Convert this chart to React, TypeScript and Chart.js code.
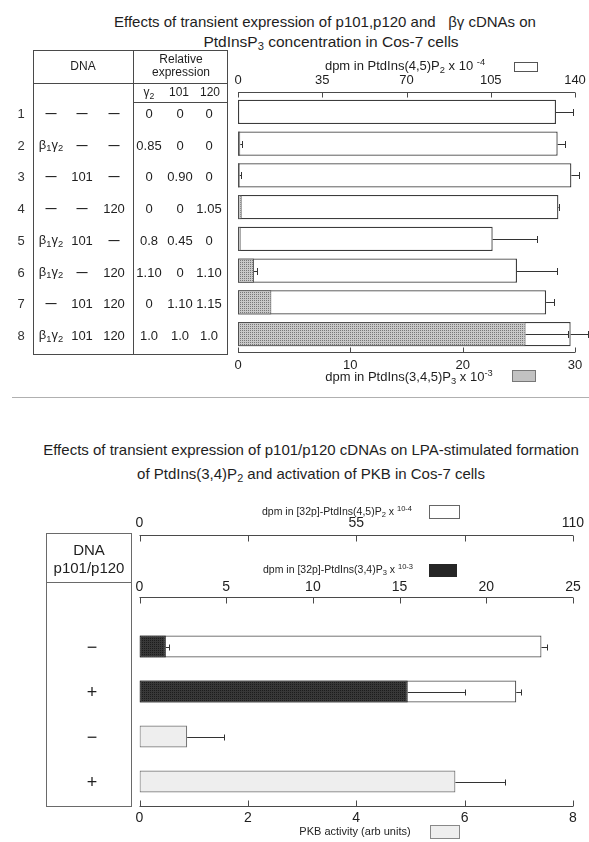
import React, { useEffect, useRef } from 'react';
import { Chart, registerables } from 'chart.js';

Chart.register(...registerables);

const FONT = '"Liberation Sans", Arial, Helvetica, sans-serif';
const INK = '#1e1e1e';

// ---------- Top panel data ----------
const rowNumbers = ['1', '2', '3', '4', '5', '6', '7', '8'];
const dnaBetaGamma = ['—', 'β1γ2', '—', '—', 'β1γ2', 'β1γ2', '—', 'β1γ2'];
const dnaP101 = ['—', '—', '101', '—', '101', '—', '101', '101'];
const dnaP120 = ['—', '—', '—', '120', '—', '120', '120', '120'];
const relGamma2 = ['0', '0.85', '0', '0', '0.8', '1.10', '0', '1.0'];
const rel101 = ['0', '0', '0.90', '0', '0.45', '0', '1.10', '1.0'];
const rel120 = ['0', '0', '0', '1.05', '0', '1.10', '1.15', '1.0'];

const pip2Values = [132.1, 132.8, 138.5, 133.1, 105.8, 115.9, 128.0, 138.2];
const pip2Errors = [6.9, 3.0, 3.1, 0.4, 18.5, 16.8, 3.3, 7.0];
const pip3Values = [0, 0.2, 0.15, 0.33, 0.24, 1.42, 2.97, 25.6];
const pip3Errors = [0, 0.12, 0.1, 0, 0, 0.24, 0, 3.8];

const pip2TickValues = [0, 35, 70, 105, 140];
const pip2TickLabels = ['0', '35', '70', '105', '140'];
const pip3TickValues = [0, 10, 20, 30];
const pip3TickLabels = ['0', '10', '20', '30'];

// ---------- Bottom panel data ----------
const dnaRows = ['−', '+', '−', '+'];
const lpaPip2Values = [102, 95.6, null, null];
const lpaPip2Errors = [1.3, 1.2, 0, 0];
const lpaPip34Values = [1.52, 15.47, null, null];
const lpaPip34Errors = [0.17, 3.3, 0, 0];
const pkbValues = [null, null, 0.88, 5.83];
const pkbErrors = [0, 0, 0.68, 0.92];

const whiteTickValues = [0, 27.5, 55, 82.5, 110];
const whiteTickLabels = ['0', '', '55', '', '110'];
const blackTickValues = [0, 5, 10, 15, 20, 25];
const blackTickLabels = ['0', '5', '10', '15', '20', '25'];
const pkbTickValues = [0, 2, 4, 6, 8];
const pkbTickLabels = ['0', '2', '4', '6', '8'];

// ---------- helpers ----------
type Spec = { id: string; offset: number; dir: number; len: number };

function axisLinesPlugin(specs: Spec[]) {
  return {
    id: 'axisLines',
    afterDraw(chart: any) {
      const ctx = chart.ctx;
      ctx.save();
      ctx.strokeStyle = '#4a4a4a';
      ctx.lineWidth = 1;
      specs.forEach((sp) => {
        const s = chart.scales[sp.id];
        const y = Math.round(s.top + sp.offset) + 0.5;
        ctx.beginPath();
        ctx.moveTo(s.left, y);
        ctx.lineTo(s.right, y);
        s.ticks.forEach((t: any) => {
          const x = Math.round(s.getPixelForValue(t.value)) + 0.5;
          ctx.moveTo(x, y);
          ctx.lineTo(x, y + sp.dir * sp.len);
        });
        ctx.stroke();
      });
      ctx.restore();
    },
  };
}

function errorBarsPlugin(cap: number) {
  return {
    id: 'errorBars',
    afterDatasetsDraw(chart: any) {
      const ctx = chart.ctx;
      ctx.save();
      ctx.strokeStyle = '#333';
      ctx.lineWidth = 1;
      chart.data.datasets.forEach((ds: any, i: number) => {
        const errs = ds.errors;
        if (!errs) return;
        const meta = chart.getDatasetMeta(i);
        const sc = chart.scales[ds.xAxisID];
        meta.data.forEach((bar: any, j: number) => {
          const v = ds.data[j];
          const e = errs[j];
          if (v == null || !e) return;
          const x0 = sc.getPixelForValue(v);
          const x1 = sc.getPixelForValue(v + e);
          const y = Math.round(bar.y) + 0.5;
          const xc = Math.round(x1) + 0.5;
          ctx.beginPath();
          ctx.moveTo(x0, y);
          ctx.lineTo(xc, y);
          ctx.moveTo(xc, y - cap);
          ctx.lineTo(xc, y + cap);
          ctx.stroke();
        });
      });
      ctx.restore();
    },
  };
}

function makePattern(ctx: CanvasRenderingContext2D, bg: string, fg: string) {
  const c = document.createElement('canvas');
  c.width = 4;
  c.height = 4;
  const g = c.getContext('2d') as CanvasRenderingContext2D;
  g.fillStyle = bg;
  g.fillRect(0, 0, 4, 4);
  g.fillStyle = fg;
  g.fillRect(0, 0, 1, 1);
  g.fillRect(2, 2, 1, 1);
  g.fillRect(2, 0, 1, 1);
  g.fillRect(0, 2, 1, 1);
  return ctx.createPattern(c, 'repeat');
}

function xAxis(opts: {
  position: string;
  min: number;
  max: number;
  values: number[];
  labels: string[];
  height: number;
  padding: number;
  size: number;
  weight?: number;
}) {
  return {
    type: 'linear',
    position: opts.position,
    weight: opts.weight ?? 0,
    min: opts.min,
    max: opts.max,
    afterBuildTicks: (s: any) => {
      s.ticks = opts.values.map((v) => ({ value: v }));
    },
    afterFit: (s: any) => {
      s.height = opts.height;
      s.paddingLeft = 0;
      s.paddingRight = 0;
    },
    grid: { display: false, drawTicks: false },
    border: { display: false },
    ticks: {
      padding: opts.padding,
      autoSkip: false,
      maxRotation: 0,
      color: INK,
      font: { family: FONT, size: opts.size },
      callback: (_v: any, i: number) => opts.labels[i],
    },
  };
}

function ChartCanvas(props: { left: number; top: number; width: number; height: number; build: (ctx: CanvasRenderingContext2D) => any }) {
  const ref = useRef<HTMLCanvasElement | null>(null);
  useEffect(() => {
    const canvas = ref.current as HTMLCanvasElement;
    const ctx = canvas.getContext('2d') as CanvasRenderingContext2D;
    const chart = new Chart(canvas, props.build(ctx));
    return () => chart.destroy();
  }, []);
  return (
    <canvas
      ref={ref}
      width={props.width}
      height={props.height}
      style={{ position: 'absolute', left: props.left, top: props.top, width: props.width, height: props.height }}
    />
  );
}

const Sub = ({ children }: any) => (
  <span style={{ fontSize: '0.72em', position: 'relative', top: '0.3em' }}>{children}</span>
);
const Sup = ({ children }: any) => (
  <span style={{ fontSize: '0.72em', position: 'relative', top: '-0.55em' }}>{children}</span>
);

function Label({ x, y, size = 13, align = 'center', children, style }: any) {
  const tx = align === 'center' ? '-50%' : align === 'left' ? '0' : '-100%';
  return (
    <div
      style={{
        position: 'absolute',
        left: x,
        top: y,
        transform: `translate(${tx},-50%)`,
        fontSize: size,
        lineHeight: 1,
        whiteSpace: 'nowrap',
        color: INK,
        ...style,
      }}
    >
      {children}
    </div>
  );
}

function Line({ x, y, w, h, color = '#4a4a4a' }: any) {
  return <div style={{ position: 'absolute', left: x, top: y, width: w, height: h, background: color }} />;
}

function Cell({ text }: { text: string }) {
  if (text === 'β1γ2') {
    return (
      <span>
        β<Sub>1</Sub>γ<Sub>2</Sub>
      </span>
    );
  }
  if (text === '—') {
    return <span style={{ fontWeight: 700, fontSize: '0.85em' }}>—</span>;
  }
  return <span>{text}</span>;
}

// ---------- chart configs ----------
function buildTop(ctx: CanvasRenderingContext2D) {
  const hatch = makePattern(ctx, '#c8c8c8', '#777777');
  return {
    type: 'bar',
    data: {
      labels: rowNumbers,
      datasets: [
        {
          label: 'PtdIns(3,4,5)P3',
          data: pip3Values,
          errors: pip3Errors,
          xAxisID: 'xP3',
          yAxisID: 'y',
          backgroundColor: hatch,
          borderColor: '#505050',
          borderWidth: 1,
          borderSkipped: false,
          grouped: false,
          order: 0,
          barPercentage: 0.77,
          categoryPercentage: 1,
        },
        {
          label: 'PtdIns(4,5)P2',
          data: pip2Values,
          errors: pip2Errors,
          xAxisID: 'xP2',
          yAxisID: 'y',
          backgroundColor: '#ffffff',
          borderColor: '#3c3c3c',
          borderWidth: 1.3,
          borderSkipped: false,
          grouped: false,
          order: 1,
          barPercentage: 0.77,
          categoryPercentage: 1,
        },
      ],
    },
    options: {
      indexAxis: 'y',
      responsive: false,
      animation: false,
      layout: { padding: { left: 238, right: 14, top: 10, bottom: 10 } },
      plugins: { legend: { display: false }, tooltip: { enabled: false } },
      scales: {
        y: { display: false },
        xP2: xAxis({ position: 'top', min: 0, max: 140, values: pip2TickValues, labels: pip2TickLabels, height: 30, padding: 8.2, size: 13 }),
        xP3: xAxis({ position: 'bottom', min: 0, max: 30, values: pip3TickValues, labels: pip3TickLabels, height: 30, padding: 7.2, size: 13 }),
      },
    },
    plugins: [
      axisLinesPlugin([
        { id: 'xP2', offset: 26, dir: 1, len: 5 },
        { id: 'xP3', offset: 2, dir: -1, len: 5 },
      ]),
      errorBarsPlugin(3.5),
    ],
  };
}

function buildBottom(ctx: CanvasRenderingContext2D) {
  const dark = makePattern(ctx, '#383838', '#1c1c1c');
  return {
    type: 'bar',
    data: {
      labels: dnaRows,
      datasets: [
        {
          label: '[32p]-PtdIns(3,4)P3',
          data: lpaPip34Values,
          errors: lpaPip34Errors,
          xAxisID: 'xB',
          yAxisID: 'y',
          backgroundColor: dark,
          borderColor: '#222',
          borderWidth: 1,
          borderSkipped: false,
          grouped: false,
          order: 0,
          barPercentage: 0.49,
          categoryPercentage: 1,
        },
        {
          label: '[32p]-PtdIns(4,5)P2',
          data: lpaPip2Values,
          errors: lpaPip2Errors,
          xAxisID: 'xW',
          yAxisID: 'y',
          backgroundColor: '#ffffff',
          borderColor: '#555',
          borderWidth: 1.2,
          borderSkipped: false,
          grouped: false,
          order: 1,
          barPercentage: 0.49,
          categoryPercentage: 1,
        },
        {
          label: 'PKB activity',
          data: pkbValues,
          errors: pkbErrors,
          xAxisID: 'xK',
          yAxisID: 'y',
          backgroundColor: '#eeeeee',
          borderColor: '#777',
          borderWidth: 1.2,
          borderSkipped: false,
          grouped: false,
          order: 2,
          barPercentage: 0.49,
          categoryPercentage: 1,
        },
      ],
    },
    options: {
      indexAxis: 'y',
      responsive: false,
      animation: false,
      layout: { padding: { left: 139.5, right: 16, top: 14, bottom: 8 } },
      plugins: { legend: { display: false }, tooltip: { enabled: false } },
      scales: {
        y: { display: false },
        xW: xAxis({ position: 'top', weight: 2, min: 0, max: 110, values: whiteTickValues, labels: whiteTickLabels, height: 60, padding: 42.6, size: 14 }),
        xB: xAxis({ position: 'top', weight: 1, min: 0, max: 25, values: blackTickValues, labels: blackTickLabels, height: 50, padding: 28.6, size: 14 }),
        xK: xAxis({ position: 'bottom', min: 0, max: 8, values: pkbTickValues, labels: pkbTickLabels, height: 30, padding: 5.6, size: 14 }),
      },
    },
    plugins: [
      axisLinesPlugin([
        { id: 'xW', offset: 21, dir: 1, len: 6 },
        { id: 'xB', offset: 23, dir: 1, len: 6 },
        { id: 'xK', offset: 2, dir: -1, len: 6 },
      ]),
      errorBarsPlugin(3),
    ],
  };
}

export default function App() {
  const rowY = (i: number) => 96.1 + (i + 0.5) * 31.73 + 1;
  const botRowY = (i: number) => 624 + (i + 0.5) * 45;
  return (
    <div style={{ position: 'absolute', left: 0, top: 0, width: 589, height: 842, fontFamily: FONT, color: INK, background: '#fff', overflow: 'hidden' }}>
      {/* ===== Top panel ===== */}
      <Label x={325} y={21} size={15}>
        Effects of transient expression of p101,p120 and&nbsp;&nbsp;&nbsp;βγ cDNAs on
      </Label>
      <Label x={331} y={42} size={15.5}>
        PtdInsP<Sub>3</Sub> concentration in Cos-7 cells
      </Label>

      <ChartCanvas left={0} top={56} width={589} height={334} build={buildTop} />

      {/* table frame */}
      <div style={{ position: 'absolute', left: 33, top: 50, width: 195, height: 305, border: '1px solid #4a4a4a', boxSizing: 'border-box' }} />
      <Line x={133} y={50} w={1} h={305} />
      <Line x={33} y={83} w={195} h={1} />
      <Line x={133} y={102} w={95} h={1} />
      <Label x={83} y={66} size={12}>DNA</Label>
      <Label x={181} y={59} size={12}>Relative</Label>
      <Label x={181} y={72} size={12}>expression</Label>
      <Label x={149} y={92} size={12}>
        γ<Sub>2</Sub>
      </Label>
      <Label x={179} y={92} size={12}>101</Label>
      <Label x={210} y={92} size={12}>120</Label>

      {rowNumbers.map((r, i) => (
        <React.Fragment key={r}>
          <Label x={21} y={rowY(i)} size={13} style={{ color: '#333' }}>{r}</Label>
          <Label x={51} y={rowY(i)} size={13}><Cell text={dnaBetaGamma[i]} /></Label>
          <Label x={82} y={rowY(i)} size={13}><Cell text={dnaP101[i]} /></Label>
          <Label x={114} y={rowY(i)} size={13}><Cell text={dnaP120[i]} /></Label>
          <Label x={149} y={rowY(i)} size={13}>{relGamma2[i]}</Label>
          <Label x={180} y={rowY(i)} size={13}>{rel101[i]}</Label>
          <Label x={209} y={rowY(i)} size={13}>{rel120[i]}</Label>
        </React.Fragment>
      ))}

      {/* top panel axis titles & legend keys */}
      <Label x={405} y={66} size={13}>
        dpm in PtdIns(4,5)P<Sub>2</Sub> x 10 <Sup>-4</Sup>
      </Label>
      <div style={{ position: 'absolute', left: 514, top: 62, width: 22, height: 8, border: '1px solid #555', background: '#fff' }} />
      <Label x={409} y={377} size={13}>
        dpm in PtdIns(3,4,5)P<Sub>3</Sub> x 10<Sup>-3</Sup>
      </Label>
      <div style={{ position: 'absolute', left: 512, top: 370, width: 22, height: 10, border: '1px solid #777', background: '#c2c2c2' }} />

      {/* separator */}
      <Line x={12} y={397} w={577} h={1} color="#b0b0b0" />

      {/* ===== Bottom panel ===== */}
      <Label x={311} y={449} size={15}>
        Effects of transient expression of p101/p120 cDNAs on LPA-stimulated formation
      </Label>
      <Label x={311} y={473} size={15}>
        of PtdIns(3,4)P<Sub>2</Sub> and activation of PKB in Cos-7 cells
      </Label>

      <ChartCanvas left={0} top={500} width={589} height={342} build={buildBottom} />

      <div style={{ position: 'absolute', left: 46, top: 533, width: 86, height: 274, border: '1px solid #6a6a6a', boxSizing: 'border-box' }} />
      <Line x={46} y={582} w={86} h={1} color="#6a6a6a" />
      <Label x={89} y={549} size={15}>DNA</Label>
      <Label x={89} y={567} size={15}>p101/p120</Label>
      {dnaRows.map((r, i) => (
        <Label key={i} x={92} y={botRowY(i)} size={18}>{r}</Label>
      ))}

      <Label x={262} y={511} size={10.5} align="left">
        dpm in [32p]-PtdIns(4,5)P<Sub>2</Sub> x <Sup>10-4</Sup>
      </Label>
      <div style={{ position: 'absolute', left: 429, top: 505, width: 29, height: 12, border: '1px solid #666', background: '#fff' }} />
      <Label x={263} y={569} size={10.5} align="left">
        dpm in [32p]-PtdIns(3,4)P<Sub>3</Sub> x <Sup>10-3</Sup>
      </Label>
      <div style={{ position: 'absolute', left: 429, top: 564, width: 28, height: 13, background: '#262626' }} />
      <Label x={355} y={831} size={11}>PKB activity (arb units)</Label>
      <div style={{ position: 'absolute', left: 430, top: 825, width: 28, height: 12, border: '1px solid #888', background: '#eee' }} />
    </div>
  );
}
